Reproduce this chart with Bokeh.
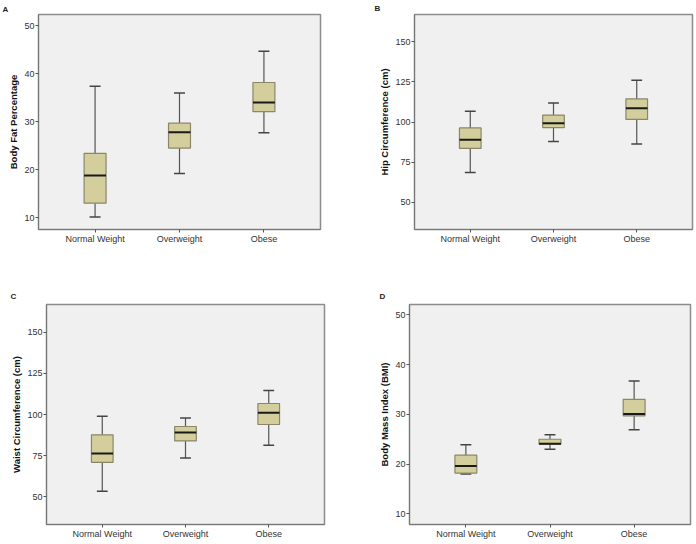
from bokeh.plotting import figure
from bokeh.layouts import column, row
from bokeh.models import Range1d, FixedTicker
from bokeh.embed import file_html
from bokeh.resources import INLINE

categories = ["Normal Weight", "Overweight", "Obese"]
xpos = [1, 2, 3]

# Panel A: Body Fat Percentage
fat_low = [10.1, 19.2, 27.7]
fat_q1 = [13.0, 24.5, 32.1]
fat_med = [18.8, 27.8, 34.0]
fat_q3 = [23.4, 29.7, 38.2]
fat_high = [37.4, 36.0, 44.7]
fat_ticks = [10, 20, 30, 40, 50]

# Panel B: Hip Circumference
hip_low = [68.5, 87.8, 86.3]
hip_q1 = [83.5, 96.5, 101.6]
hip_med = [89.0, 99.2, 108.5]
hip_q3 = [96.3, 104.3, 114.4]
hip_high = [106.7, 111.8, 126.0]
hip_ticks = [50, 75, 100, 125, 150]

# Panel C: Waist Circumference
waist_low = [53.2, 73.5, 81.3]
waist_q1 = [70.9, 83.9, 93.9]
waist_med = [76.2, 89.0, 101.0]
waist_q3 = [87.6, 92.7, 106.7]
waist_high = [99.0, 97.9, 114.6]
waist_ticks = [50, 75, 100, 125, 150]

# Panel D: BMI
bmi_low = [18.0, 23.0, 26.9]
bmi_q1 = [18.2, 24.0, 29.7]
bmi_med = [19.6, 24.1, 30.1]
bmi_q3 = [21.8, 25.0, 33.0]
bmi_high = [23.9, 25.9, 36.7]
bmi_ticks = [10, 20, 30, 40, 50]

FONT = "Liberation Sans"
BOX_FILL = "#D3CE9B"
BOX_LINE = "#8A866A"
WHISK = "#555555"


def panel(letter, ylabel, ticks, yr, low, q1, med, q3, high,
          width, height, bl, br, bt, bb, title_offset, title_standoff):
    p = figure(width=width, height=height, output_backend="svg",
               toolbar_location=None, x_range=Range1d(0.33, 3.67),
               y_range=Range1d(*yr), min_border_left=bl, min_border_right=br,
               min_border_top=bt, min_border_bottom=bb, title=letter)
    p.title.text_font = FONT
    p.title.text_font_size = "8px"
    p.title.text_font_style = "bold"
    p.title.text_color = "#222222"
    p.title.align = "left"
    p.title.offset = title_offset
    p.title.standoff = title_standoff
    p.background_fill_color = "#F0F0F0"
    p.border_fill_color = "white"
    p.outline_line_color = "#8C8C8C"
    p.outline_line_width = 1.5
    p.grid.visible = False

    p.xaxis.ticker = FixedTicker(ticks=xpos)
    p.xaxis.major_label_overrides = {x: c for x, c in zip(xpos, categories)}
    p.yaxis.ticker = FixedTicker(ticks=ticks)
    for ax in (p.xaxis, p.yaxis):
        ax.axis_line_color = "#777777"
        ax.major_tick_line_color = "#555555"
        ax.major_tick_out = 3
        ax.major_tick_in = 0
        ax.minor_tick_line_color = None
        ax.major_label_text_font = FONT
        ax.major_label_text_font_size = "9px"
        ax.major_label_text_color = "#333333"
        ax.major_label_standoff = 1
    p.yaxis.axis_label = ylabel
    p.yaxis.axis_label_text_font = FONT
    p.yaxis.axis_label_text_font_size = "9.5px"
    p.yaxis.axis_label_text_font_style = "bold"
    p.yaxis.axis_label_text_color = "#111111"
    p.yaxis.axis_label_standoff = 2

    p.segment(x0=xpos, y0=low, x1=xpos, y1=q1, line_color=WHISK, line_width=1.2)
    p.segment(x0=xpos, y0=q3, x1=xpos, y1=high, line_color=WHISK, line_width=1.2)
    cw = 0.065
    p.segment(x0=[x - cw for x in xpos], y0=low, x1=[x + cw for x in xpos], y1=low,
              line_color="#444444", line_width=1.5)
    p.segment(x0=[x - cw for x in xpos], y0=high, x1=[x + cw for x in xpos], y1=high,
              line_color="#444444", line_width=1.5)
    p.vbar(x=xpos, width=0.26, bottom=q1, top=q3, fill_color=BOX_FILL,
           line_color=BOX_LINE, line_width=1.2)
    bw = 0.13
    p.segment(x0=[x - bw for x in xpos], y0=med, x1=[x + bw for x in xpos], y1=med,
              line_color="#1a1a1a", line_width=2)
    return p


pA = panel("A", "Body Fat Percentage", fat_ticks, (7.5, 52.4),
           fat_low, fat_q1, fat_med, fat_q3, fat_high,
           348, 272, 38, 28, 14, 43, -36, 2)
pB = panel("B", "Hip Circumference (cm)", hip_ticks, (33, 167),
           hip_low, hip_q1, hip_med, hip_q3, hip_high,
           346, 272, 66, 2, 14, 38, -40, 3)
pC = panel("C", "Waist Circumference (cm)", waist_ticks, (33, 167),
           waist_low, waist_q1, waist_med, waist_q3, waist_high,
           348, 271, 46, 24, 32, 19, -36, 7)
pD = panel("D", "Body Mass Index (BMI)", bmi_ticks, (7.85, 52.1),
           bmi_low, bmi_q1, bmi_med, bmi_q3, bmi_high,
           346, 271, 61, 4, 32, 19, -30, 8)

layout = column(row(pA, pB), row(pC, pD))
open("out.html", "w").write(file_html(layout, INLINE))
